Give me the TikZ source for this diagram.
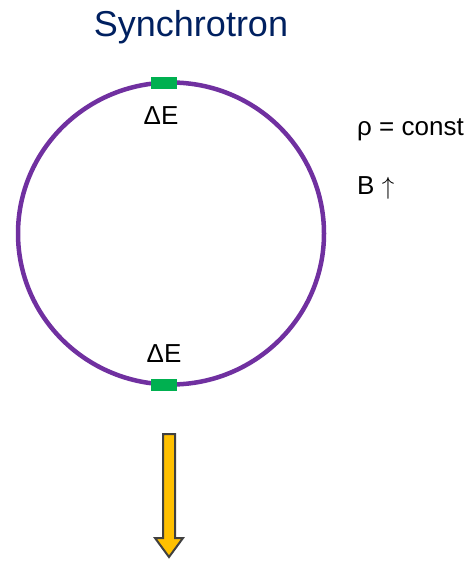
\documentclass[tikz,border=0pt]{standalone}
\usepackage{fontspec}
\setmainfont{Liberation Sans}
\definecolor{ringpurple}{RGB}{112,48,160}
\definecolor{gapgreen}{RGB}{0,176,80}
\definecolor{titleblue}{RGB}{0,32,96}
\definecolor{beamyellow}{RGB}{255,192,0}
\definecolor{beamedge}{RGB}{64,64,64}

\begin{document}
\begin{tikzpicture}[x=1pt, y=-1pt,
    ring/.style={draw=ringpurple, line width=4.5pt},
    gap/.style={fill=gapgreen, minimum width=26pt, minimum height=12pt, inner sep=0pt},
    txt/.style={font=\fontsize{26}{31}\selectfont, inner sep=0pt},
    beam/.style={fill=beamyellow, draw=beamedge, line width=2pt, line join=miter}
  ]
  \useasboundingbox (0,0) rectangle (468,561);

  % Titel
  \node[txt, font=\fontsize{36}{43}\selectfont, text=titleblue, anchor=base] (title) at (191,37) {Synchrotron};

  % Ring
  \draw[ring] (171,233.5) ellipse[x radius=153pt, y radius=151pt];

  % Beschleunigungsstrecken
  \node[gap] (gaptop) at (164,83) {};
  \node[gap] (gapbot) at (164,385) {};
  \node[txt, anchor=base] (detop) at (161,125) {ΔE};
  \node[txt, anchor=base] (debot) at (164,362) {ΔE};

  % Bedingungen
  \node[txt, anchor=base west] (rho) at (357,136) {ρ = const};
  \node[txt, anchor=base west] (field) at (357,194) {B $\uparrow$};

  % Strahl
  \draw[beam] (163,434) -- (175,434) -- (175,538) -- (183,538) -- (169,557)
    -- (155,538) -- (163,538) -- cycle;
\end{tikzpicture}
\end{document}
